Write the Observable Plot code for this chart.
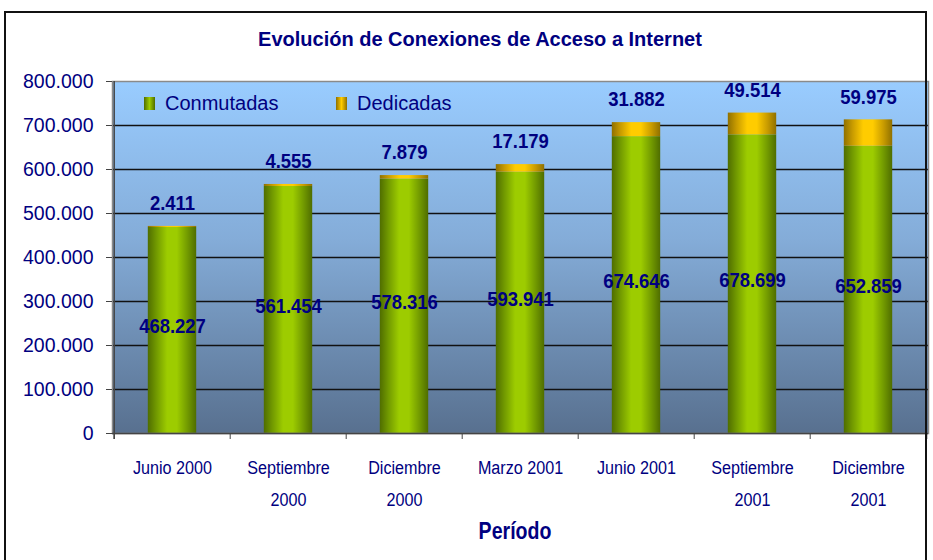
<!DOCTYPE html>
<html><head><meta charset="utf-8">
<script src="https://cdn.jsdelivr.net/npm/d3@7"></script>
<script src="https://cdn.jsdelivr.net/npm/@observablehq/plot@0.6"></script>
<style>
body{margin:0;background:#fff;}
#wrap{position:relative;width:933px;height:560px;overflow:hidden;background:#fff;}
#wrap svg{position:absolute;left:0;top:0;}
#frame{position:absolute;left:4px;top:11px;width:923px;height:560px;border:2px solid #111;border-bottom:none;box-sizing:border-box;pointer-events:none;}
#title{position:absolute;left:0;width:960px;top:28px;text-align:center;font:bold 20px "Liberation Sans",Arial,sans-serif;color:#000080;}
#xlabel{position:absolute;left:415px;width:200px;top:518px;text-align:center;font:bold 23px "Liberation Sans",Arial,sans-serif;color:#000080;transform:scaleX(0.85);}
.leg{position:absolute;top:92px;font:20px "Liberation Sans",Arial,sans-serif;color:#000080;display:flex;align-items:center;}
.sw{width:11px;height:13px;margin-right:10px;}
</style>
</head><body>
<div id="wrap">
  <div id="title">Evolución de Conexiones de Acceso a Internet</div>
  <div id="xlabel">Período</div>
</div>
<script>
const periods = ["Junio 2000","Septiembre\n2000","Diciembre\n2000","Marzo 2001","Junio 2001","Septiembre\n2001","Diciembre\n2001"];
const conmutadas = [468227, 561454, 578316, 593941, 674646, 678699, 652859];
const dedicadas = [2411, 4555, 7879, 17179, 31882, 49514, 59975];
const seriesNames = ["Conmutadas","Dedicadas"];
const yTicks = [0,100000,200000,300000,400000,500000,600000,700000,800000];

const loc = d3.formatLocale({decimal: ",", thousands: ".", grouping: [3], currency: ["", ""]});
const fmt = loc.format(",d");

const rows = periods.map((p, i) => ({period: p, c: conmutadas[i], d: dedicadas[i], total: conmutadas[i] + dedicadas[i]}));
const navy = "#000080";
const sans = "'Liberation Sans',Arial,sans-serif";

const plot = Plot.plot({
  width: 933,
  height: 560,
  marginLeft: 112,
  marginRight: 5,
  marginTop: 81,
  marginBottom: 127,
  style: {background: "transparent", overflow: "visible"},
  x: {domain: periods, padding: 0, label: null},
  y: {domain: [0, 800000], label: null},
  marks: [
    Plot.frame({fill: "url(#bgGrad)", stroke: "none"}),
    Plot.ruleY(yTicks.filter(t => t > 0 && t < 800000), {stroke: "#111", strokeWidth: 1.3}),
    Plot.barY(rows, {x: "period", y1: 0, y2: "c", fill: "url(#gGreen)", insetLeft: 33.8, insetRight: 33.8}),
    Plot.barY(rows, {x: "period", y1: "c", y2: "total", fill: "url(#gGold)", insetLeft: 33.8, insetRight: 33.8}),
    Plot.frame({stroke: "#8a8a8a", strokeWidth: 1.5, fill: "none"}),
    Plot.ruleX([periods[0]], {dx: -58.3, stroke: "#444", strokeWidth: 1.5, insetBottom: -6}),
    Plot.ruleY([0], {stroke: "#444", strokeWidth: 1.5}),
    Plot.ruleX(periods, {dx: -58.3, stroke: "#444", insetTop: 352, insetBottom: -6}),
    Plot.ruleX([periods[periods.length - 1]], {dx: 58.3, stroke: "#444", insetTop: 352, insetBottom: -6}),
    Plot.axisY({ticks: yTicks, tickFormat: fmt, tickSize: 6, tickPadding: 13, fontSize: 19.5,
      fontFamily: sans, fill: navy, stroke: "#444", label: null}),
    Plot.axisX({tickSize: 0, tickPadding: 18, fontSize: 19, fontFamily: sans, fill: navy, lineHeight: 1.68, label: null}),
    Plot.text(rows, {x: "period", y: d => d.c / 2, text: d => fmt(d.c), dy: -4, fontSize: 21, fontWeight: "bold", fontFamily: sans, fill: navy}),
    Plot.text(rows, {x: "period", y: "total", text: d => fmt(d.d), dy: -23, fontSize: 21, fontWeight: "bold", fontFamily: sans, fill: navy})
  ]
});

const svg = d3.select(plot);
const defs = svg.insert("defs", ":first-child");
const bg = defs.append("linearGradient").attr("id", "bgGrad").attr("x1", 0).attr("y1", 0).attr("x2", 0).attr("y2", 1);
bg.append("stop").attr("offset", 0).attr("stop-color", "#99ccff");
bg.append("stop").attr("offset", 0.45).attr("stop-color", "#84acd8");
bg.append("stop").attr("offset", 1).attr("stop-color", "#58708f");
function cyl(id, dark, mid, bright) {
  const g = defs.append("linearGradient").attr("id", id).attr("x1", 0).attr("y1", 0).attr("x2", 1).attr("y2", 0);
  [[0, dark], [0.18, mid], [0.4, bright], [0.6, bright], [0.82, mid], [1, dark]].forEach(([o, c]) =>
    g.append("stop").attr("offset", o).attr("stop-color", c));
}
cyl("gGreen", "#4f6d00", "#729a00", "#9dcc00");
cyl("gGold", "#8f7000", "#c89b00", "#ffcc00");

// condensed look (Arial Narrow-like): squeeze horizontally about each text's anchor
function narrow(el, k) {
  const t = el.getAttribute("transform") || "";
  el.setAttribute("transform", `${t} scale(${k},1)`);
}
svg.selectAll('g[aria-label="x-axis tick label"] text').each(function() { narrow(this, 0.85); });
svg.selectAll('g[aria-label="text"] text').each(function() { narrow(this, 0.88); });

const wrap = document.getElementById("wrap");
wrap.insertBefore(plot, wrap.firstChild);

const legItems = [
  {name: seriesNames[0], left: 144, grad: "linear-gradient(90deg,#4f6d00,#9dcc00 50%,#4f6d00)"},
  {name: seriesNames[1], left: 336, grad: "linear-gradient(90deg,#8f7000,#ffcc00 50%,#8f7000)"}
];
legItems.forEach(l => {
  const div = document.createElement("div");
  div.className = "leg";
  div.style.left = l.left + "px";
  div.innerHTML = `<span class="sw" style="background:${l.grad}"></span><span>${l.name}</span>`;
  wrap.appendChild(div);
});
const fr = document.createElement("div");
fr.id = "frame";
wrap.appendChild(fr);
</script>
</body></html>
